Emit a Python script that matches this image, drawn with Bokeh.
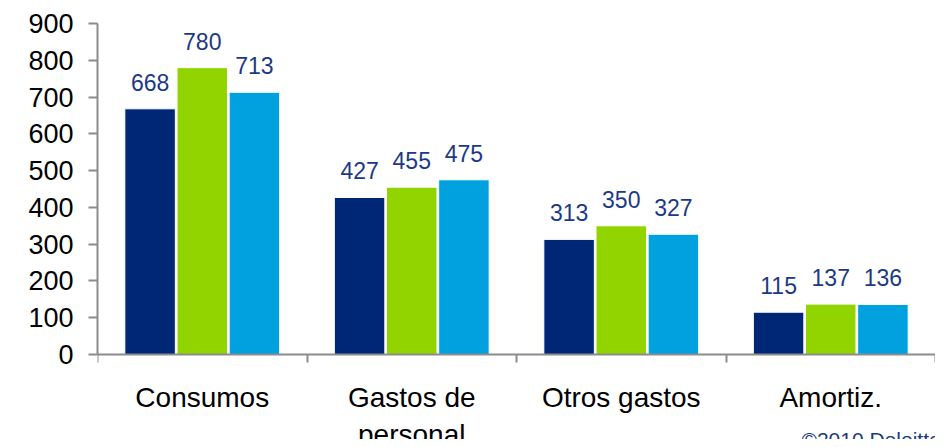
from bokeh.plotting import figure
from bokeh.models import ColumnDataSource, LabelSet, FixedTicker, Range1d, LinearAxis
from bokeh.core.properties import value
from bokeh.transform import dodge
from bokeh.embed import file_html
from bokeh.resources import INLINE

# ---- data ----
categories = ["Consumos", "Gastos de\npersonal", "Otros gastos", "Amortiz."]
serie_1 = [668, 427, 313, 115]
serie_2 = [780, 455, 350, 137]
serie_3 = [713, 475, 327, 136]
y_ticks = [0, 100, 200, 300, 400, 500, 600, 700, 800, 900]
y_max = 900

colors = ["#002776", "#92D400", "#00A1DE"]
label_color = "#1B3A86"
FONT = "Liberation Sans"

# layout (pixels)
W, H = 935, 439
TOP, LEFT = 23, 97
zero_px = 354                      # pixel row of value 0
px_per_unit = (zero_px - TOP) / y_max
y_start = -(H - zero_px) / px_per_unit

xc = [i + 0.5 for i in range(len(categories))]
src = ColumnDataSource(dict(
    x=xc, s1=serie_1, s2=serie_2, s3=serie_3,
    t1=[str(v) for v in serie_1], t2=[str(v) for v in serie_2], t3=[str(v) for v in serie_3],
    cat=categories, ylab=[-27 / px_per_unit] * len(categories),
))

p = figure(width=W, height=H, output_backend="svg", toolbar_location=None,
           x_range=Range1d(0, len(categories)), y_range=Range1d(y_start, y_max),
           x_axis_type=None, y_axis_type=None,
           min_border_left=LEFT, min_border_right=0, min_border_top=TOP, min_border_bottom=0)
p.outline_line_color = None
p.grid.grid_line_color = None
p.background_fill_color = "white"

step = 0.249
bw = 0.241
for off, key, c in [(-step, "s1", colors[0]), (0, "s2", colors[1]), (step, "s3", colors[2])]:
    p.vbar(x=dodge("x", off, range=p.x_range), top=key, width=bw, source=src,
           fill_color=c, line_color="white", line_width=1)

for off, key, tkey in [(-step, "s1", "t1"), (0, "s2", "t2"), (step, "s3", "t3")]:
    p.add_layout(LabelSet(x=dodge("x", off, range=p.x_range), y=key, text=tkey, source=src,
                          y_offset=18, text_align="center", text_baseline="alphabetic",
                          text_font=value(FONT), text_font_size=value("23px"),
                          text_color=value(label_color)))

# category labels below the axis
p.text(x="x", y="ylab", text="cat", source=src, text_align="center", text_baseline="top",
       text_font=value(FONT), text_font_size=value("28px"), text_color="black",
       text_line_height=1.2)

# copyright
p.text(x=[3.36], y=[-73 / px_per_unit], text=["©2010 Deloitte"], text_align="left",
       text_baseline="top", text_font=value(FONT), text_font_size=value("21px"),
       text_color=label_color)

# y axis
ya = LinearAxis(ticker=FixedTicker(ticks=y_ticks), bounds=(0, y_max))
ya.axis_line_color = "#8C8C8C"
ya.axis_line_width = 2
ya.major_tick_line_color = "#8C8C8C"
ya.major_tick_line_width = 2
ya.major_tick_out = 9
ya.major_tick_in = 0
ya.minor_tick_line_color = None
ya.major_label_text_font = FONT
ya.major_label_text_font_size = "27px"
ya.major_label_text_color = "black"
ya.major_label_standoff = 15
p.add_layout(ya, "left")

# x axis drawn at value 0: ticks at category boundaries, no labels
xa = LinearAxis(ticker=FixedTicker(ticks=xc, minor_ticks=list(range(len(categories) + 1))),
                fixed_location=0)
xa.axis_line_color = "#8C8C8C"
xa.axis_line_width = 2
xa.major_tick_line_color = None
xa.major_tick_in = 0
xa.major_tick_out = 0
xa.minor_tick_line_color = "#8C8C8C"
xa.minor_tick_line_width = 2
xa.minor_tick_out = 0
xa.minor_tick_in = 8
xa.major_label_overrides = {x: "" for x in xc}
xa.major_label_standoff = 0
p.add_layout(xa, "above")

open("out.html", "w").write(file_html(p, INLINE))
